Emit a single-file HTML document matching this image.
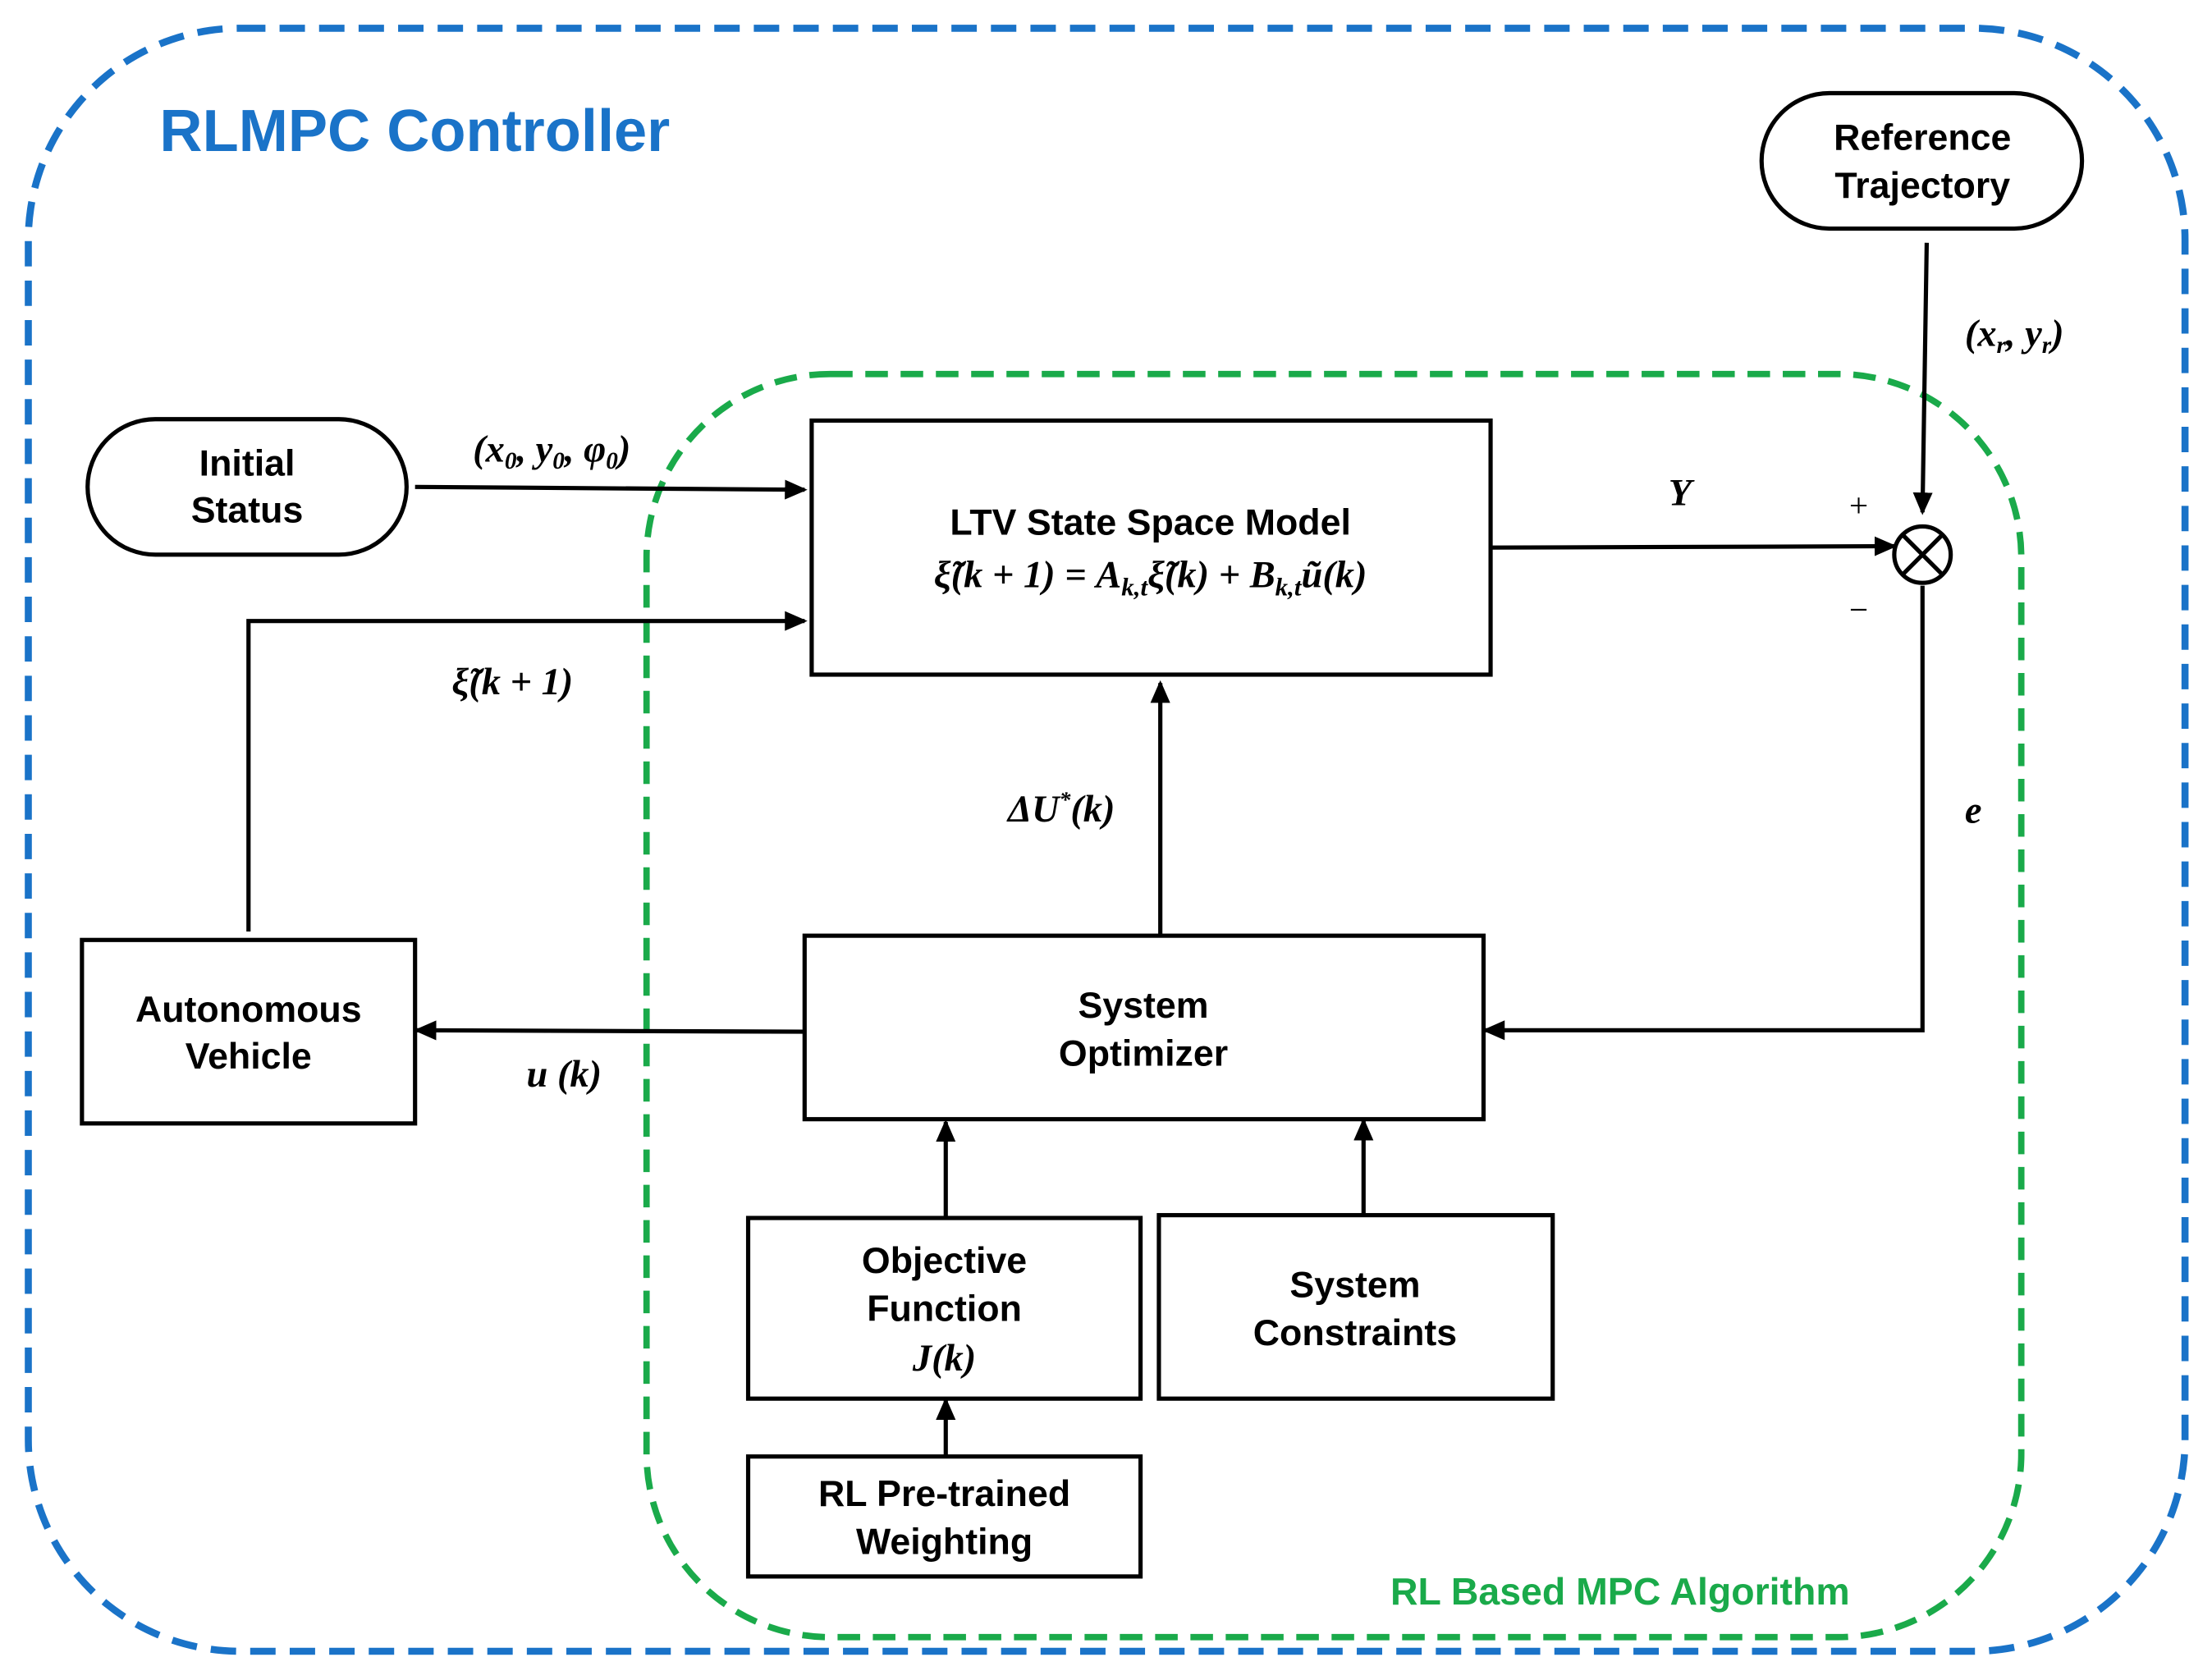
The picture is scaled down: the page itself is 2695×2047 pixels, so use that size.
<!DOCTYPE html>
<html><head><meta charset="utf-8"><style>
html,body{margin:0;padding:0;background:#fff;}
svg{display:block;}
.t{font-family:"Liberation Sans",sans-serif;font-weight:bold;font-size:26px;fill:#000;text-anchor:middle;}
.m{font-family:"Liberation Serif",serif;font-style:italic;font-weight:bold;font-size:27px;fill:#000;}
</style></head><body>
<svg width="2695" height="2047" viewBox="0 0 1560 1185" xmlns="http://www.w3.org/2000/svg">
<defs>
<marker id="a" markerWidth="20" markerHeight="20" refX="14" refY="7" orient="auto" markerUnits="userSpaceOnUse">
<path d="M0,0 L16,7 L0,14 Z" fill="#000"/>
</marker>
</defs>
<g transform="scale(0.9955)">
<rect x="20" y="20" width="1528" height="1150" rx="150" fill="none" stroke="#1a73c8" stroke-width="5" stroke-dasharray="18 10"/>
<text x="113" y="107" font-family="Liberation Sans,sans-serif" font-weight="bold" font-size="42" fill="#1a73c8">RLMPC Controller</text>
<rect x="458" y="265" width="974" height="895" rx="130" fill="none" stroke="#1aaa4a" stroke-width="4.5" stroke-dasharray="16 9"/>
<text x="985" y="1137" font-family="Liberation Sans,sans-serif" font-weight="bold" font-size="27" fill="#1aaa4a">RL Based MPC Algorithm</text>

<g fill="#fff" stroke="#000" stroke-width="3">
<rect x="1248" y="66" width="227" height="96" rx="48"/>
<rect x="62" y="297" width="226" height="96" rx="48"/>
<rect x="575" y="298" width="481" height="180"/>
<rect x="58" y="666" width="236" height="130"/>
<rect x="570" y="663" width="481" height="130"/>
<rect x="530" y="863" width="278" height="128"/>
<rect x="821" y="861" width="279" height="130"/>
<rect x="530" y="1032" width="278" height="85"/>
<circle cx="1362" cy="393" r="20"/>
</g>
<g stroke="#000" stroke-width="3"><line x1="1348" y1="379" x2="1376" y2="407"/><line x1="1376" y1="379" x2="1348" y2="407"/></g>

<g stroke="#000" stroke-width="3" fill="none" marker-end="url(#a)">
<line x1="294" y1="345" x2="570" y2="347"/>
<polyline points="176,660 176,440 570,440"/>
<line x1="1056" y1="388" x2="1342" y2="387"/>
<line x1="1365" y1="172" x2="1362" y2="363"/>
<polyline points="1362,415 1362,730 1052,730"/>
<line x1="822" y1="663" x2="822" y2="484"/>
<line x1="570" y1="731" x2="295" y2="730"/>
<line x1="670" y1="863" x2="670" y2="795"/>
<line x1="966" y1="861" x2="966" y2="794"/>
<line x1="670" y1="1032" x2="670" y2="992"/>
</g>

<text class="t" x="1362" y="106">Reference</text>
<text class="t" x="1362" y="140">Trajectory</text>
<text class="t" x="175" y="337">Initial</text>
<text class="t" x="175" y="370">Status</text>
<text class="t" x="815" y="379">LTV State Space Model</text>
<text class="m" x="815" y="416" text-anchor="middle" font-size="28">ξ̃(k + 1) = A<tspan font-size="18" dy="6">k,t</tspan><tspan dy="-6">ξ̃(k) + B</tspan><tspan font-size="18" dy="6">k,t</tspan><tspan dy="-6">ũ(k)</tspan></text>
<text class="t" x="176" y="724">Autonomous</text>
<text class="t" x="176" y="757">Vehicle</text>
<text class="t" x="810" y="721">System</text>
<text class="t" x="810" y="755">Optimizer</text>
<text class="t" x="669" y="902">Objective</text>
<text class="t" x="669" y="936">Function</text>
<text class="m" x="669" y="971" text-anchor="middle">J(k)</text>
<text class="t" x="960" y="919">System</text>
<text class="t" x="960" y="953">Constraints</text>
<text class="t" x="669" y="1067">RL Pre-trained</text>
<text class="t" x="669" y="1101">Weighting</text>

<text class="m" x="335" y="327">(x<tspan font-size="17" dy="5">0</tspan><tspan dy="-5">, y</tspan><tspan font-size="17" dy="5">0</tspan><tspan dy="-5">, φ</tspan><tspan font-size="17" dy="5">0</tspan><tspan dy="-5">)</tspan></text>
<text class="m" x="1392" y="245">(x<tspan font-size="17" dy="5">r</tspan><tspan dy="-5">, y</tspan><tspan font-size="17" dy="5">r</tspan><tspan dy="-5">)</tspan></text>
<text class="m" x="320" y="492">ξ̃(k + 1)</text>
<text class="m" x="1182" y="358">Υ</text>
<text x="1310" y="366" font-family="Liberation Serif,serif" font-size="24">+</text>
<text x="1310" y="440" font-family="Liberation Serif,serif" font-size="24">−</text>
<text class="m" x="1392" y="583">e</text>
<text class="m" x="714" y="582">ΔU<tspan font-size="16" dy="-10">*</tspan><tspan dy="10">(k)</tspan></text>
<text class="m" x="373" y="770">u (k)</text>
</g>
</svg>
</body></html>
